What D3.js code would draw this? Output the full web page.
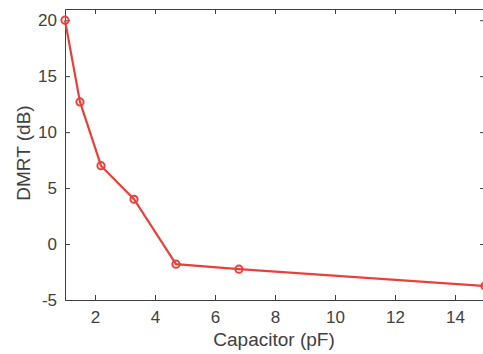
<!DOCTYPE html>
<html><head><meta charset="utf-8">
<script src="https://cdn.jsdelivr.net/npm/d3@7"></script>
<style>body{margin:0;background:#fff}svg{display:block}</style>
</head><body>
<script>
const capacitance = [1, 1.5, 2.2, 3.3, 4.7, 6.8, 15];
const dmrt = [20, 12.7, 7.0, 4.0, -1.8, -2.25, -3.75];
const xTicks = [2, 4, 6, 8, 10, 12, 14];
const yTicks = [-5, 0, 5, 10, 15, 20];

const W = 483, H = 354;
const m = {left: 65, right: 485, top: 9, bottom: 300};
const svg = d3.select("body").append("svg").attr("width", W).attr("height", H);
const x = d3.scaleLinear().domain([1, 15]).range([m.left, m.right]);
const y = d3.scaleLinear().domain([-5, 21]).range([m.bottom, m.top]);
const axisColor = "#404040";
const font = "'Liberation Sans', Arial, Helvetica, sans-serif";
const fmt = d => String(d);

function styleAxis(g) {
  g.select(".domain").attr("stroke", axisColor).attr("stroke-width", 1);
  g.selectAll(".tick line").attr("stroke", axisColor);
  g.selectAll(".tick text").attr("fill", axisColor).style("font-family", font).style("font-size", "17px");
}

svg.append("g").attr("transform", `translate(0,${m.bottom})`)
  .call(d3.axisBottom(x).tickValues(xTicks).tickFormat(fmt).tickSizeInner(-5).tickSizeOuter(0).tickPadding(11))
  .call(styleAxis);
svg.append("g").attr("transform", `translate(0,${m.top})`)
  .call(d3.axisTop(x).tickValues(xTicks).tickSizeInner(-5).tickSizeOuter(0).tickFormat(""))
  .call(styleAxis);
svg.append("g").attr("transform", `translate(${m.left},0)`)
  .call(d3.axisLeft(y).tickValues(yTicks).tickFormat(fmt).tickSizeInner(-5).tickSizeOuter(0).tickPadding(8))
  .call(styleAxis);
svg.append("g").attr("transform", `translate(${m.right},0)`)
  .call(d3.axisRight(y).tickValues(yTicks).tickSizeInner(-5).tickSizeOuter(0).tickFormat(""))
  .call(styleAxis);

const pts = capacitance.map((c, i) => [c, dmrt[i]]);
const red = "#e8403a";
svg.append("path").datum(pts)
  .attr("fill", "none").attr("stroke", red).attr("stroke-width", 2.2)
  .attr("d", d3.line().x(d => x(d[0])).y(d => y(d[1])));
svg.selectAll("circle.pt").data(pts).join("circle").attr("class", "pt")
  .attr("cx", d => x(d[0])).attr("cy", d => y(d[1])).attr("r", 3.6)
  .attr("fill", "none").attr("stroke", red).attr("stroke-width", 2);

svg.append("text").attr("x", 274).attr("y", 346)
  .attr("text-anchor", "middle").attr("fill", axisColor)
  .style("font-family", font).style("font-size", "19px").text("Capacitor (pF)");
svg.append("text").attr("transform", `translate(30,153) rotate(-90)`)
  .attr("text-anchor", "middle").attr("fill", axisColor)
  .style("font-family", font).style("font-size", "19px").text("DMRT (dB)");
</script>
</body></html>
